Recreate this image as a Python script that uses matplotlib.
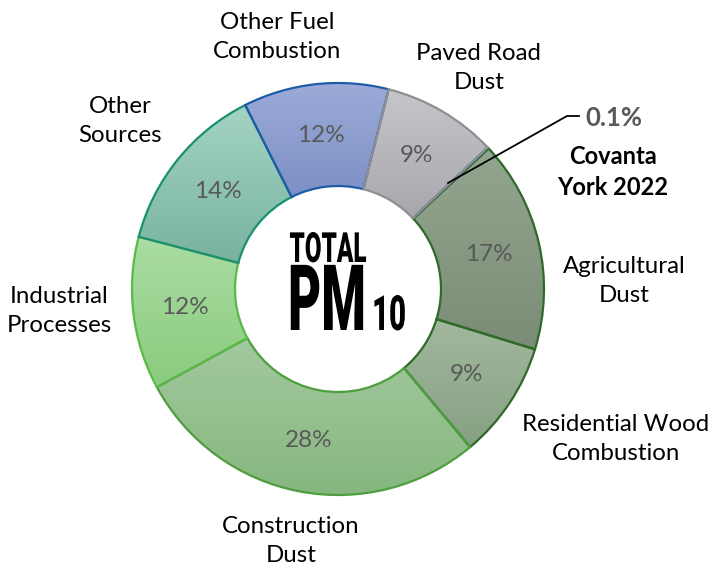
import numpy as np
import matplotlib
matplotlib.use('Agg')
import matplotlib.pyplot as plt
from matplotlib import font_manager
from matplotlib.colors import LinearSegmentedColormap
from matplotlib.patheffects import AbstractPathEffect
from matplotlib.transforms import Affine2D

# データ（時計回り、Covanta から）
sources = ['Covanta\nYork 2022', 'Agricultural\nDust', 'Residential Wood\nCombustion',
           'Construction\nDust', 'Industrial\nProcesses', 'Other\nSources',
           'Other Fuel\nCombustion', 'Paved Road\nDust']
shares = [0.1, 16.7, 9.2, 28.2, 12.0, 13.5, 11.4, 9.0]
pct_labels = ['0.1%', '17%', '9%', '28%', '12%', '14%', '12%', '9%']

# 色（上側, 下側, 枠線）
top_cols = ['#5b7fc0', '#94a690', '#a2b89e', '#a3c99e', '#aadda2', '#a4d3c3', '#9cabd8', '#c6c6ca']
bot_cols = ['#4a6fb0', '#7a8b76', '#86a082', '#86b77f', '#8acb7e', '#78b3a0', '#7d8fc5', '#a7a7ac']
edge_cols = ['#2060a8', '#2f6a2a', '#2f6a2a', '#4e9e3f', '#5cb84a', '#1a8f73', '#1f5ca8', '#8e8e93']

W, H = 712, 571


def pick_font(names):
    for n in names:
        try:
            font_manager.findfont(font_manager.FontProperties(family=n), fallback_to_default=False)
            return n
        except ValueError:
            pass
    return 'DejaVu Sans'


class Squeeze(AbstractPathEffect):
    # 文字を横方向に縮める（x0 を中心に）
    def __init__(self, sx, x0):
        super().__init__()
        self.sx = sx
        self.x0 = x0

    def draw_path(self, renderer, gc, tpath, affine, rgbFace=None):
        t = affine + Affine2D().translate(-self.x0, 0).scale(self.sx, 1).translate(self.x0, 0)
        renderer.draw_path(gc, tpath, t, rgbFace)


body_font = pick_font(['Lato', 'Open Sans', 'Liberation Sans'])
title_font = pick_font(['Roboto', 'Liberation Sans'])

fig = plt.figure(figsize=(W / 100, H / 100), dpi=100)
ax = fig.add_axes([0, 0, 1, 1])

cx, cy = 338, H - 289
R = 206
ring = 103

wedges, _ = ax.pie(shares, startangle=90 - 46.6, counterclock=False,
                   center=(cx, cy), radius=R,
                   wedgeprops=dict(width=ring, linewidth=1.6))

# グラデーション塗り
grad = np.linspace(0, 1, 256).reshape(-1, 1)
for w, ct, cb, ec in zip(wedges, top_cols, bot_cols, edge_cols):
    w.set_facecolor('none')
    w.set_edgecolor(ec)
    w.set_zorder(3)
    x0, y0, x1, y1 = w.get_path().get_extents().extents
    cm = LinearSegmentedColormap.from_list('g', [cb, ct])
    im = ax.imshow(grad, extent=[x0, x1, y0, y1], origin='lower', cmap=cm,
                   aspect='auto', zorder=2, interpolation='bilinear')
    im.set_clip_path(w)

ax.set_xlim(0, W)
ax.set_ylim(0, H)
ax.set_aspect('auto')
ax.axis('off')

# パーセント表示
rmid = R - ring / 2
for w, lab in zip(wedges[1:], pct_labels[1:]):
    ang = np.deg2rad((w.theta1 + w.theta2) / 2)
    ax.text(cx + rmid * np.cos(ang), cy + rmid * np.sin(ang), lab,
            ha='center', va='center', fontsize=17.5, color='#595959',
            family=body_font)

# 外側ラベル（位置はピクセル）
label_pos = [None, (624, 281), (616, 439), (291, 541), (59, 311), (120, 121),
             (277, 37), (479, 68)]
for name, pos in zip(sources, label_pos):
    if pos is None:
        continue
    ax.text(pos[0], H - pos[1], name, ha='center', va='center', fontsize=17.3,
            color='black', family=body_font, linespacing=1.45)

# Covanta の引き出し線
ax.plot([448, 567, 579], [H - 183, H - 116, H - 116], color='black', lw=1.3, zorder=5)
ax.text(614, H - 118, pct_labels[0], ha='center', va='center', fontsize=18.5,
        color='#595959', fontweight='bold', family=body_font)
ax.text(613, H - 172, sources[0], ha='center', va='center', fontsize=17,
        color='black', fontweight='bold', family=body_font, linespacing=1.45)

# 中央タイトル（横幅を合わせて縮める）
renderer = fig.canvas.get_renderer()
title_parts = [('TOTAL', 328, 262, 30, 77), ('PM', 327, 330, 66, 78), ('10', 389, 330, 35, 34)]
for txt, tx, ty, fs, tw in title_parts:
    t = ax.text(tx, H - ty, txt, ha='center', va='baseline', fontsize=fs,
                fontweight=900, family=title_font, color='black')
    bb = t.get_window_extent(renderer)
    t.set_path_effects([Squeeze(tw / bb.width, (bb.x0 + bb.x1) / 2)])

plt.savefig('out.png', dpi=100)
plt.close()
